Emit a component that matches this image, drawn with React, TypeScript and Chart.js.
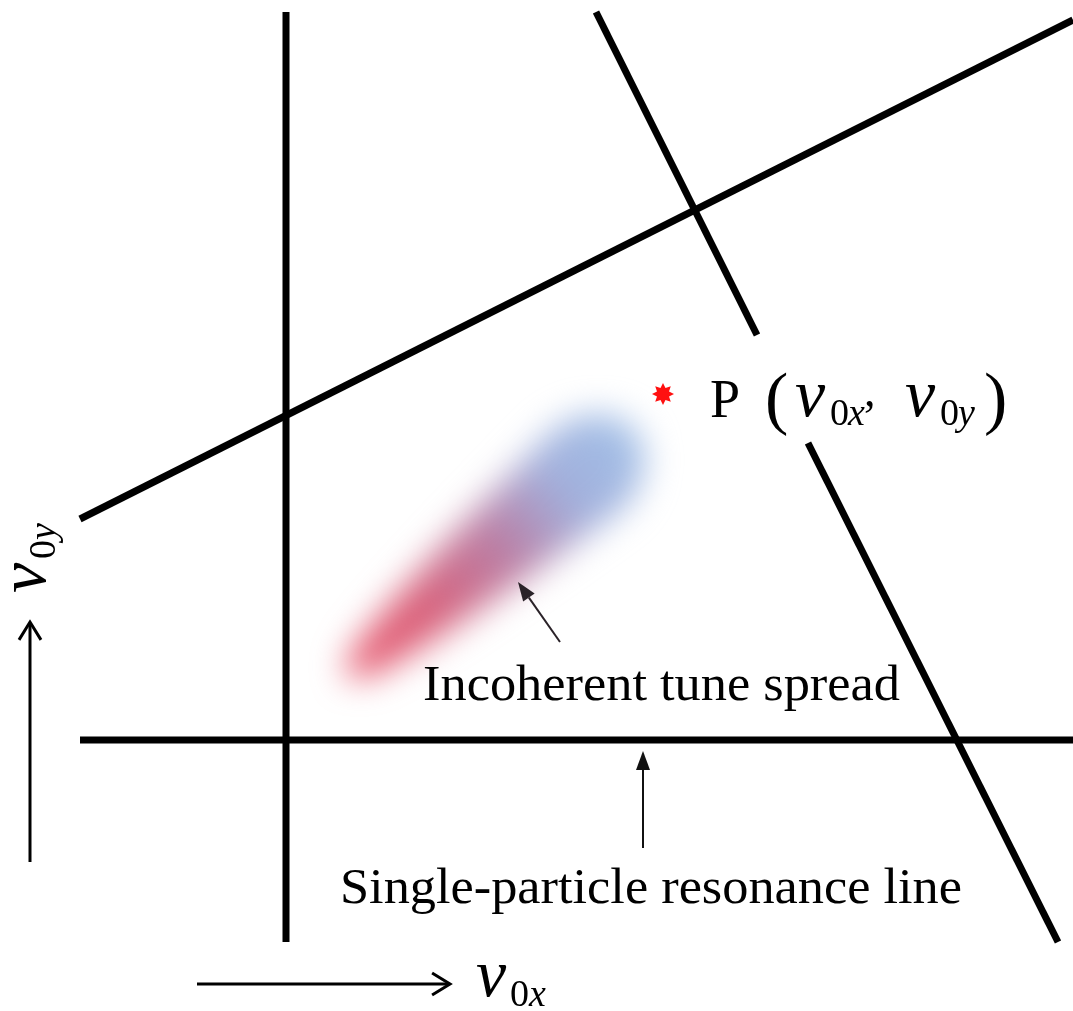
import React, { useEffect, useRef } from "react";
import { Chart, registerables } from "chart.js";

Chart.register(...registerables);

// ---- Diagram data (tune-plane units, y grows downward) ----
const verticalResonanceLine = [{ x: 286, y: 12 }, { x: 286, y: 942 }];
const horizontalResonanceLine = [{ x: 80, y: 740 }, { x: 1073, y: 740 }];
const risingResonanceLine = [{ x: 80, y: 519 }, { x: 1073, y: 20 }];
const steepResonanceLineUpper = [{ x: 596, y: 12 }, { x: 757, y: 335 }];
const steepResonanceLineLower = [{ x: 808, y: 443 }, { x: 1058, y: 942 }];
const workingPoint = [{ x: 663, y: 394 }];

// incoherent tune spread (red tip -> blue head)
const spreadAxisX = [358, 585];
const spreadAxisY = [667, 472];
const spreadHalfWidth = [12, 52];

// labels
const pointLabel = "P";
const spreadLabel = "Incoherent tune spread";
const resonanceLabel = "Single-particle resonance line";
const nu = "\u03BD";

const SERIF = '"Liberation Serif", "Times New Roman", serif';

function makeStar(rOut: number, rIn: number, color: string) {
  const c = document.createElement("canvas");
  const s = Math.ceil(rOut * 2 + 2);
  c.width = s;
  c.height = s;
  const g = c.getContext("2d")!;
  g.fillStyle = color;
  g.beginPath();
  for (let i = 0; i < 16; i++) {
    const a = -Math.PI / 2 + (i * Math.PI) / 8;
    const r = i % 2 ? rIn : rOut;
    const px = s / 2 + r * Math.cos(a);
    const py = s / 2 + r * Math.sin(a);
    if (i === 0) g.moveTo(px, py);
    else g.lineTo(px, py);
  }
  g.closePath();
  g.fill();
  return c;
}

const decorPlugin = {
  id: "tuneDecor",
  beforeDatasetsDraw(chart: any) {
    const { ctx, scales } = chart;
    const X = (v: number) => scales.x.getPixelForValue(v);
    const Y = (v: number) => scales.y.getPixelForValue(v);
    const ax = X(spreadAxisX[0]), ay = Y(spreadAxisY[0]);
    const bx = X(spreadAxisX[1]), by = Y(spreadAxisY[1]);
    const r0 = spreadHalfWidth[0], r1 = spreadHalfWidth[1];
    const dx = bx - ax, dy = by - ay;
    const L = Math.hypot(dx, dy);
    const ux = dx / L, uy = dy / L;
    const nx = -uy, ny = ux;
    const pts: [number, number][] = [];
    const N = 40;
    const w = (t: number) => r0 + (r1 - r0) * Math.pow(t, 0.65);
    for (let i = 0; i <= N; i++) {
      const t = i / N;
      pts.push([ax + dx * t + nx * w(t), ay + dy * t + ny * w(t)]);
    }
    for (let i = 0; i <= 20; i++) {
      const p = (i / 20) * Math.PI;
      pts.push([bx + r1 * (Math.cos(p) * nx + Math.sin(p) * ux * 1.25), by + r1 * (Math.cos(p) * ny + Math.sin(p) * uy * 1.25)]);
    }
    for (let i = N; i >= 0; i--) {
      const t = i / N;
      pts.push([ax + dx * t - nx * w(t), ay + dy * t - ny * w(t)]);
    }
    for (let i = 0; i <= 20; i++) {
      const p = (i / 20) * Math.PI;
      pts.push([ax + r0 * (-Math.cos(p) * nx - Math.sin(p) * ux), ay + r0 * (-Math.cos(p) * ny - Math.sin(p) * uy)]);
    }
    const g = ctx.createLinearGradient(ax - ux * r0, ay - uy * r0, bx + ux * r1, by + uy * r1);
    g.addColorStop(0, "rgb(232,84,106)");
    g.addColorStop(0.28, "rgb(216,98,124)");
    g.addColorStop(0.55, "rgb(186,128,166)");
    g.addColorStop(0.78, "rgb(162,176,220)");
    g.addColorStop(1, "rgb(162,190,230)");
    ctx.save();
    ctx.filter = "blur(17px)";
    ctx.fillStyle = g;
    ctx.beginPath();
    pts.forEach((p, i) => (i ? ctx.lineTo(p[0], p[1]) : ctx.moveTo(p[0], p[1])));
    ctx.closePath();
    ctx.fill();
    ctx.restore();
  },
  afterDatasetsDraw(chart: any) {
    const { ctx, scales } = chart;
    const X = (v: number) => scales.x.getPixelForValue(v);
    const Y = (v: number) => scales.y.getPixelForValue(v);
    ctx.save();
    ctx.fillStyle = "#000";
    ctx.strokeStyle = "#000";
    ctx.textBaseline = "alphabetic";
    ctx.textAlign = "left";

    const fit = (s: string, x: number, y: number, size: number, width: number) => {
      ctx.font = `${size}px ${SERIF}`;
      const m = ctx.measureText(s).width;
      ctx.save();
      ctx.translate(X(x), Y(y));
      ctx.scale(width / m, 1);
      ctx.fillText(s, 0, 0);
      ctx.restore();
    };
    const put = (s: string, x: number, y: number, font: string) => {
      ctx.font = font;
      ctx.fillText(s, X(x), Y(y));
    };

    // P (v0x, v0y)
    put(pointLabel, 710, 417, `54px ${SERIF}`);
    put("(", 765, 421, `70px ${SERIF}`);
    put(nu, 795, 416, `italic 68px ${SERIF}`);
    put("0", 830, 425, `38px ${SERIF}`);
    put("x", 848, 425, `italic 38px ${SERIF}`);
    put(",", 864, 406, `46px ${SERIF}`);
    put(nu, 905, 416, `italic 68px ${SERIF}`);
    put("0", 940, 425, `38px ${SERIF}`);
    put("y", 958, 425, `italic 38px ${SERIF}`);
    put(")", 984, 421, `70px ${SERIF}`);

    // annotations
    fit(spreadLabel, 423, 700, 50, 477);
    fit(resonanceLabel, 340, 903, 50, 622);

    // v0x axis label
    put(nu, 476, 996, `italic 68px ${SERIF}`);
    put("0", 510, 1006, `38px ${SERIF}`);
    put("x", 529, 1006, `italic 38px ${SERIF}`);

    // v0y axis label (rotated)
    ctx.save();
    ctx.translate(X(45), Y(593));
    ctx.rotate(-Math.PI / 2);
    ctx.font = `italic 68px ${SERIF}`;
    ctx.fillText(nu, 0, 0);
    ctx.font = `38px ${SERIF}`;
    ctx.fillText("0", 34, 10);
    ctx.font = `italic 38px ${SERIF}`;
    ctx.fillText("y", 53, 10);
    ctx.restore();

    // open-head axis arrows
    const openArrow = (x1: number, y1: number, x2: number, y2: number) => {
      const p1x = X(x1), p1y = Y(y1), p2x = X(x2), p2y = Y(y2);
      const a = Math.atan2(p2y - p1y, p2x - p1x);
      ctx.lineWidth = 3;
      ctx.lineCap = "butt";
      ctx.beginPath();
      ctx.moveTo(p1x, p1y);
      ctx.lineTo(p2x - Math.cos(a) * 1, p2y - Math.sin(a) * 1);
      ctx.stroke();
      const len = 21, half = 0.55;
      ctx.lineJoin = "miter";
      ctx.beginPath();
      ctx.moveTo(p2x - len * Math.cos(a - half), p2y - len * Math.sin(a - half));
      ctx.lineTo(p2x, p2y);
      ctx.lineTo(p2x - len * Math.cos(a + half), p2y - len * Math.sin(a + half));
      ctx.stroke();
    };
    openArrow(30, 862, 30, 622);
    openArrow(197, 984, 450, 984);

    // filled-head pointer arrows
    const filledArrow = (x1: number, y1: number, x2: number, y2: number, color: string) => {
      const p1x = X(x1), p1y = Y(y1), p2x = X(x2), p2y = Y(y2);
      const a = Math.atan2(p2y - p1y, p2x - p1x);
      const len = 19, hw = 7;
      ctx.strokeStyle = color;
      ctx.fillStyle = color;
      ctx.lineWidth = 2;
      ctx.beginPath();
      ctx.moveTo(p1x, p1y);
      ctx.lineTo(p2x - len * Math.cos(a), p2y - len * Math.sin(a));
      ctx.stroke();
      const bx = p2x - len * Math.cos(a), by = p2y - len * Math.sin(a);
      ctx.beginPath();
      ctx.moveTo(p2x, p2y);
      ctx.lineTo(bx + hw * Math.sin(a), by - hw * Math.cos(a));
      ctx.lineTo(bx - hw * Math.sin(a), by + hw * Math.cos(a));
      ctx.closePath();
      ctx.fill();
    };
    filledArrow(643, 848, 643, 751, "#111");
    filledArrow(560, 642, 518, 582, "#2a2228");
    ctx.restore();
  },
};

export default function App() {
  const ref = useRef<HTMLCanvasElement | null>(null);
  useEffect(() => {
    document.body.style.margin = "0";
    const star = makeStar(11, 6.5, "#ff1010");
    const line = (data: { x: number; y: number }[]) => ({
      data,
      showLine: true,
      borderColor: "#000",
      borderWidth: 7,
      pointRadius: 0,
      pointHoverRadius: 0,
      borderCapStyle: "butt" as const,
      clip: false as any,
    });
    const chart = new Chart(ref.current!, {
      type: "scatter",
      data: {
        datasets: [
          line(verticalResonanceLine),
          line(horizontalResonanceLine),
          line(risingResonanceLine),
          line(steepResonanceLineUpper),
          line(steepResonanceLineLower),
          {
            data: workingPoint,
            pointStyle: star as any,
            pointRadius: 8,
            showLine: false,
            clip: false as any,
          },
        ],
      },
      options: {
        animation: false,
        responsive: true,
        maintainAspectRatio: false,
        layout: { padding: 0, autoPadding: false } as any,
        events: [],
        plugins: { legend: { display: false }, tooltip: { enabled: false } },
        scales: {
          x: { type: "linear", min: 0, max: 1073, display: false },
          y: { type: "linear", min: 0, max: 1011, reverse: true, display: false },
        },
      },
      plugins: [decorPlugin],
    });
    return () => chart.destroy();
  }, []);
  return (
    <div style={{ position: "absolute", left: 0, top: 0, width: 1073, height: 1011, background: "#fff" }}>
      <canvas ref={ref} />
    </div>
  );
}
